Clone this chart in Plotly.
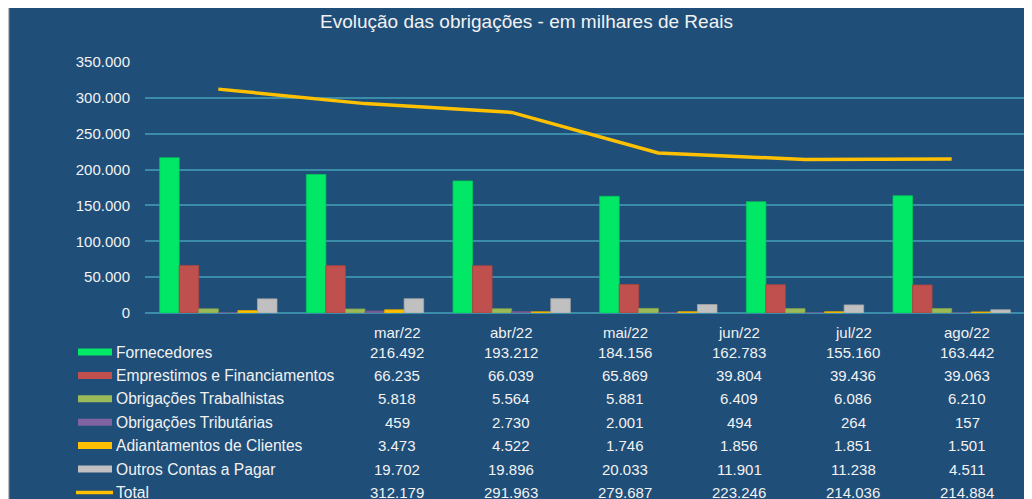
import plotly.graph_objects as go

months = ["mar/22", "abr/22", "mai/22", "jun/22", "jul/22", "ago/22"]
series_names = ["Fornecedores", "Emprestimos e Financiamentos", "Obrigações Trabalhistas",
                "Obrigações Tributárias", "Adiantamentos de Clientes", "Outros Contas a Pagar"]
fornecedores = [216492, 193212, 184156, 162783, 155160, 163442]
emprestimos = [66235, 66039, 65869, 39804, 39436, 39063]
trabalhistas = [5818, 5564, 5881, 6409, 6086, 6210]
tributarias = [459, 2730, 2001, 494, 264, 157]
adiantamentos = [3473, 4522, 1746, 1856, 1851, 1501]
outros = [19702, 19896, 20033, 11901, 11238, 4511]
total_name = "Total"
total = [312179, 291963, 279687, 223246, 214036, 214884]
ytick_vals = [0, 50000, 100000, 150000, 200000, 250000, 300000, 350000]
ytick_text = ["0", "50.000", "100.000", "150.000", "200.000", "250.000", "300.000", "350.000"]
title_text = "Evolução das obrigações - em milhares de Reais"

colors = ["#00E866", "#C0504D", "#9BBB59", "#8064A2", "#FFC000", "#C0C0C0"]
edge = ["#00C858", "#A84440", "#86A24C", "#6E568C", "#DDA600", "#A6A6A6"]
line_color = "#FFC000"
bg = "#1F4E79"
txt = "#F2F2F2"
grid = "#3A8CA8"

OFF = 8  # page body offset
W, H = 1032 - OFF, 499 - OFF
# plot area in screen pixels: x 145..1025, y 62..313
L, T = 145 - OFF, 62 - OFF
R = W - (1025 - OFF)
B = H - (313 - OFF)
pw, ph = W - L - R, H - T - B


def px_x(p):
    return (p - OFF - L) / pw


def px_y(p):
    return (H - B - (p - OFF)) / ph


all_series = [fornecedores, emprestimos, trabalhistas, tributarias, adiantamentos, outros]

fig = go.Figure()
for name, vals, c, e in zip(series_names, all_series, colors, edge):
    fig.add_trace(go.Bar(x=months, y=vals, name=name, marker=dict(color=c, line=dict(color=e, width=0.8))))
fig.add_trace(go.Scatter(x=months, y=total, name=total_name, mode="lines",
                         line=dict(color=line_color, width=3.5)))

shapes = []
annotations = []
shapes.append(dict(type="line", xref="paper", yref="paper",
                   x0=px_x(8.5), x1=px_x(8.5), y0=px_y(520), y1=px_y(8),
                   line=dict(color="#BFBFBF", width=1.5)))

col_x = [397 + 114 * i for i in range(len(months))]
header_y = 332
row_y0 = 352
row_h = 23.4
fs = 15

for i, m in enumerate(months):
    annotations.append(dict(x=px_x(col_x[i]), y=px_y(header_y), xref="paper", yref="paper",
                            text=m, showarrow=False, xanchor="center", yanchor="middle",
                            font=dict(size=fs, color=txt)))

rows = list(zip(series_names, all_series, colors)) + [(total_name, total, line_color)]
for r, (name, vals, c) in enumerate(rows):
    py = row_y0 + r * row_h
    if name == total_name:
        shapes.append(dict(type="line", xref="paper", yref="paper",
                           x0=px_x(76), x1=px_x(113), y0=px_y(py), y1=px_y(py),
                           line=dict(color=c, width=3.5)))
    else:
        shapes.append(dict(type="rect", xref="paper", yref="paper",
                           x0=px_x(78), x1=px_x(112), y0=px_y(py + 3.5), y1=px_y(py - 3.5),
                           fillcolor=c, line=dict(width=0)))
    annotations.append(dict(x=px_x(114), y=px_y(py), xref="paper", yref="paper",
                            text=name, showarrow=False, xanchor="left", yanchor="middle",
                            font=dict(size=15.6, color=txt)))
    for i, v in enumerate(vals):
        annotations.append(dict(x=px_x(col_x[i]), y=px_y(py), xref="paper", yref="paper",
                                text=f"{v:,}".replace(",", "."), showarrow=False,
                                xanchor="center", yanchor="middle",
                                font=dict(size=fs, color=txt)))

annotations.append(dict(x=px_x(526), y=px_y(22), xref="paper", yref="paper",
                        text=title_text, showarrow=False, xanchor="center", yanchor="middle",
                        font=dict(size=19, color=txt)))

fig.update_layout(
    width=W, height=H,
    margin=dict(l=L, r=R, t=T, b=B, pad=0),
    paper_bgcolor=bg,
    plot_bgcolor="rgba(0,0,0,0)",
    font=dict(family="Liberation Sans, Arial, sans-serif", color=txt),
    barmode="group", bargap=0.2, bargroupgap=0,
    showlegend=False,
    shapes=shapes, annotations=annotations,
    xaxis=dict(showticklabels=False, showgrid=False, zeroline=False, showline=False, ticks=""),
    yaxis=dict(range=[0, 350000], tickvals=ytick_vals, ticktext=ytick_text,
               showgrid=True, gridcolor=grid, gridwidth=1.5, zeroline=True,
               zerolinecolor=grid, zerolinewidth=1.5, showline=False,
               ticks="", ticklabelstandoff=14, tickfont=dict(size=15, color=txt)),
)

fig.write_html("out.html")
